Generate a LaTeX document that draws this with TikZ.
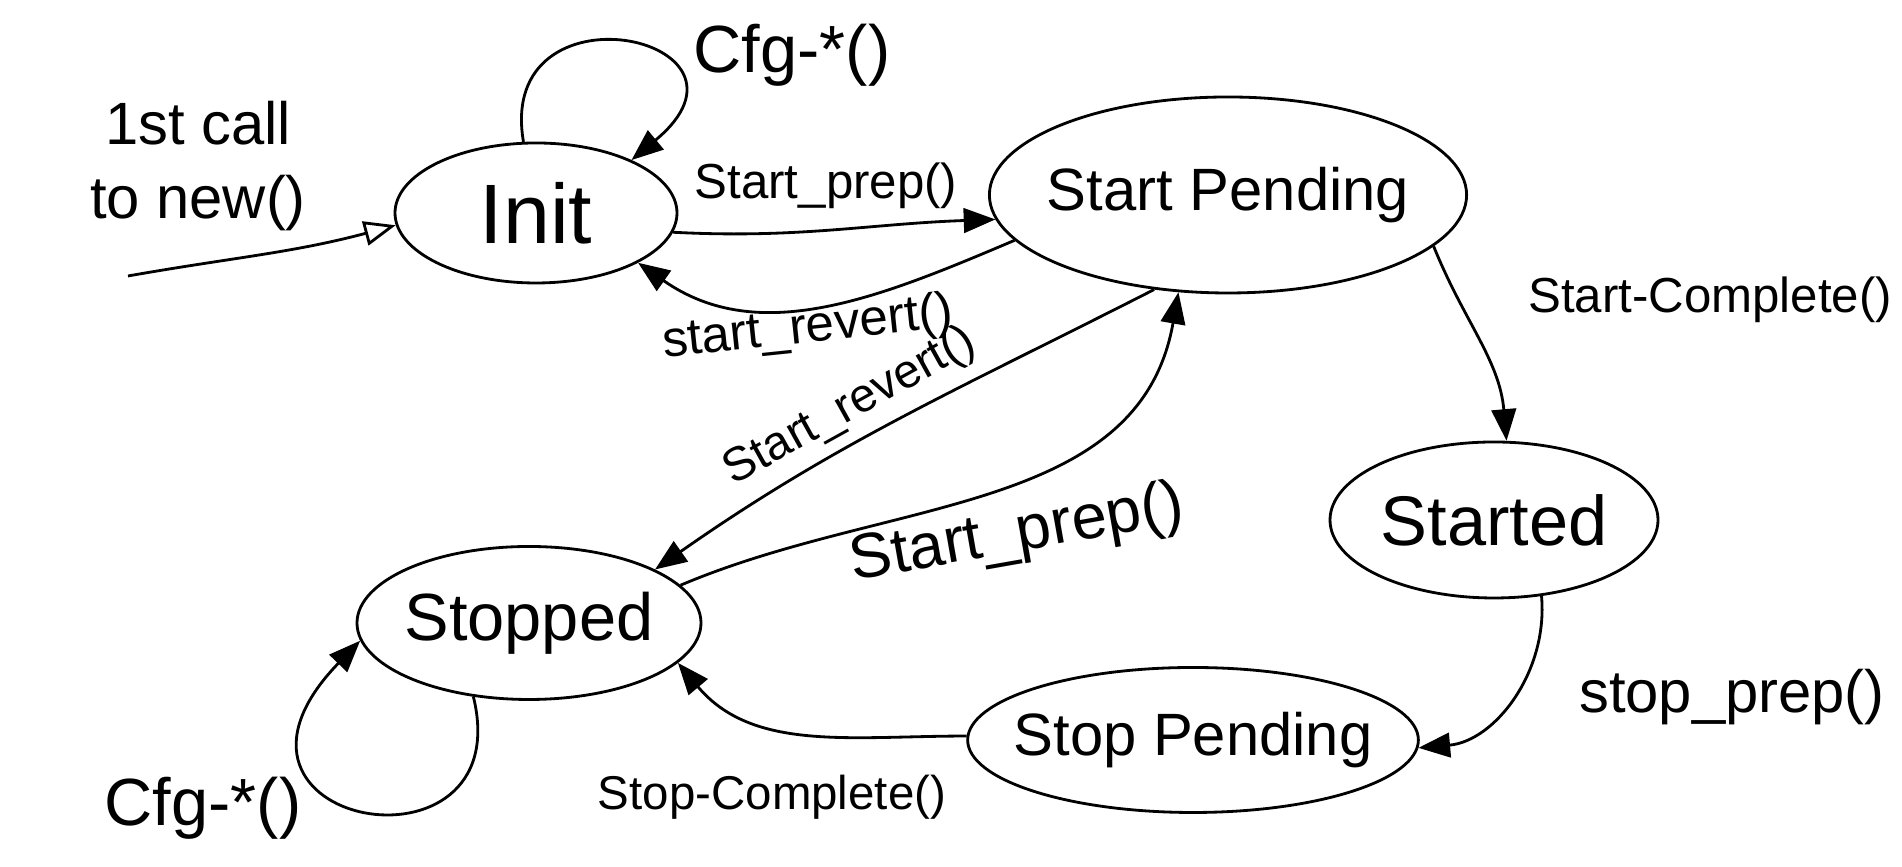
\documentclass[tikz,border=0pt]{standalone}
\usepackage{fontspec}
\setmainfont{Liberation Sans}
\usepackage{tikz}
\usetikzlibrary{shapes.geometric, arrows.meta, positioning, calc}

\tikzset{
  state/.style={draw, ellipse, thick, inner ysep=0pt, inner xsep=0pt, font=\fontsize{19}{22}\selectfont},
  lbl/.style={font=\fontsize{14}{16}\selectfont, inner sep=1pt},
  trans/.style={thick, -{Triangle[length=9pt,width=7pt]}},
}

\begin{document}
\begin{tikzpicture}
            \useasboundingbox (0,0) rectangle (19.02,8.67);

            % States
            \node[state, font=\fontsize{24}{27}\selectfont, minimum width=2.82cm, minimum height=1.40cm] (init) at (5.36,6.54) {Init};
            \node[state, font=\fontsize{17}{20}\selectfont, inner xsep=-3.5pt, minimum width=4.67cm, minimum height=1.96cm] (startpend) at (12.28,6.72) {Start Pending};
            \node[state, font=\fontsize{20}{23}\selectfont, minimum width=3.28cm, minimum height=1.56cm] (started) at (14.94,3.47) {Started};
            \node[state, inner xsep=-1.5pt, minimum width=3.44cm, minimum height=1.53cm] (stopped) at (5.29,2.44) {Stopped};
            \node[state, font=\fontsize{17}{20}\selectfont, inner xsep=-5.7pt, minimum width=4.43cm, minimum height=1.45cm] (stoppend) at (11.93,1.27) {Stop Pending};

            % Entry
            \coordinate (entry) at (1.28,5.91);
            \node[lbl, font=\fontsize{17}{21}\selectfont, align=center] (firstcall) at (1.98,7.01) {1st call\\to new()};
            \draw[thick, -{Triangle[open,length=9pt,width=7pt]}] (entry) to[out=10,in=195] (init.185);

            % Self loops
            \draw[trans] (init.100) .. controls (4.95,8.9) and (7.8,8.3) .. (init.29);
            \node[lbl, font=\fontsize{19}{22}\selectfont] (cfginit) at (7.92,8.12) {Cfg-*()};
            \draw[trans] (stopped.233) .. controls (5.2,-0.2) and (1.8,0.4) .. (stopped.186);
            \node[lbl, font=\fontsize{19}{22}\selectfont] (cfgstop) at (2.03,0.59) {Cfg-*()};

            % Init <-> Start Pending
            \draw[trans] (init.-8) to[out=-3,in=182] (startpend.186);
            \node[lbl] (prepa) at (8.26,6.81) {Start\_prep()};
            \draw[trans] (startpend.192) to[out=203,in=-35] (init.-26);
            \node[lbl, font=\fontsize{14.5}{17}\selectfont, rotate=6] (reverta) at (8.08,5.38) {start\_revert()};

            % Start Pending <-> Stopped
            \draw[trans] (startpend.232) to[out=207,in=35] (stopped.23);
            \node[lbl, font=\fontsize{13.5}{16}\selectfont, rotate=29] (revertb) at (8.50,4.60) {Start\_revert()};
            \draw[trans] (stopped.14) to[out=23,in=-100] (startpend.243);
            \node[lbl, font=\fontsize{18}{21}\selectfont, rotate=10] (prepb) at (10.17,3.32) {Start\_prep()};

            % Start Pending -> Started -> Stop Pending -> Stopped
            \draw[trans] (startpend.-14) to[out=-68,in=95] (started.81);
            \node[lbl] (complete) at (17.10,5.67) {Start-Complete()};
            \draw[trans] (started.-58) to[out=-85,in=5] (stoppend.-2);
            \node[lbl, font=\fontsize{17}{20}\selectfont] (stopprep) at (17.32,1.70) {stop\_prep()};
            \draw[trans] (stoppend.179) to[out=180,in=-50] (stopped.-15);
            \node[lbl, font=\fontsize{13.5}{16}\selectfont] (stopcomp) at (7.72,0.70) {Stop-Complete()};
        \end{tikzpicture}
\end{document}
